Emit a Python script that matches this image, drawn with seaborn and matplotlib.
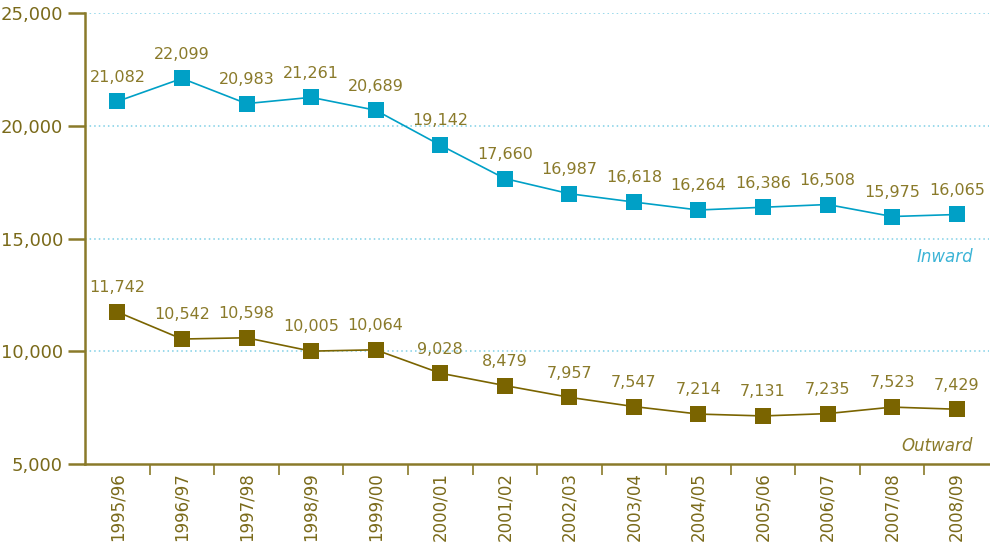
import matplotlib
matplotlib.use("Agg")
import matplotlib.pyplot as plt
import seaborn as sns
import pandas as pd
import numpy as np

years = ["1995/96", "1996/97", "1997/98", "1998/99", "1999/00", "2000/01", "2001/02",
         "2002/03", "2003/04", "2004/05", "2005/06", "2006/07", "2007/08", "2008/09"]
inward = [21082, 22099, 20983, 21261, 20689, 19142, 17660, 16987, 16618, 16264, 16386, 16508, 15975, 16065]
outward = [11742, 10542, 10598, 10005, 10064, 9028, 8479, 7957, 7547, 7214, 7131, 7235, 7523, 7429]
yticks = [5000, 10000, 15000, 20000, 25000]

sns.set_theme(style="white")
plt.rcParams['font.family'] = ['DejaVu Sans']

OLIVE = "#8a7a2a"
DARK_OLIVE = "#7a6a1a"
BLUE = "#00a0c6"
BROWN = "#7a6400"

df = pd.DataFrame({"pos": list(range(len(years))) * 2,
                   "value": inward + outward,
                   "series": ["Inward"] * len(years) + ["Outward"] * len(years)})

fig = plt.figure(figsize=(9.9, 5.43), dpi=100)
ax = fig.add_axes([0.086, 0.1455, 0.913, 0.8305])

sns.lineplot(data=df, x="pos", y="value", hue="series", palette={"Inward": BLUE, "Outward": BROWN},
             marker="s", markersize=11, markeredgewidth=0, linewidth=1.2, legend=False, ax=ax)

for i, v in enumerate(inward):
    ax.annotate(f"{v:,}", (i, v), xytext=(0, 12), textcoords="offset points",
                ha="center", va="bottom", fontsize=11.5, color=OLIVE)
for i, v in enumerate(outward):
    ax.annotate(f"{v:,}", (i, v), xytext=(0, 12), textcoords="offset points",
                ha="center", va="bottom", fontsize=11.5, color=OLIVE)

ax.set_xlim(-0.5, len(years) - 0.5)
ax.set_ylim(5000, 25000)
ax.set_yticks(yticks)
ax.set_yticklabels([f"{t:,}" for t in yticks], fontsize=13, color=DARK_OLIVE)
for t in yticks[1:]:
    ax.axhline(t, color="#7fcfe6", linestyle=(0, (1, 2)), linewidth=1.1, zorder=0)

ax.set_xticks(range(len(years)))
ax.set_xticklabels(years, rotation=90, fontsize=12, color=DARK_OLIVE)
ax.tick_params(axis="x", which="major", length=0, pad=6)
ax.set_xticks(np.arange(0.5, len(years) - 0.5, 1), minor=True)
ax.tick_params(axis="x", which="minor", length=8, width=1.2, color=OLIVE, direction="out", bottom=True)
ax.tick_params(axis="y", which="major", length=12, width=1.8, color=OLIVE, direction="out", left=True, pad=4)

for s in ["top", "right"]:
    ax.spines[s].set_visible(False)
for s in ["left", "bottom"]:
    ax.spines[s].set_color(OLIVE)
    ax.spines[s].set_linewidth(1.8)

ax.set_xlabel("")
ax.set_ylabel("")

ax.text(13.25, 14200, "Inward", ha="right", va="center", fontsize=12, style="italic", color="#3cb4d6")
ax.text(13.25, 5800, "Outward", ha="right", va="center", fontsize=12, style="italic", color=OLIVE)

fig.savefig("out.png", dpi=100)
